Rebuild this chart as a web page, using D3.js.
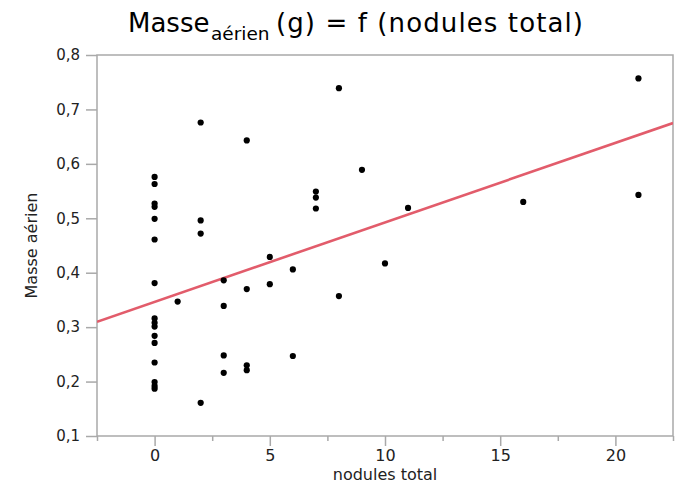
<!DOCTYPE html>
<html>
<head>
<meta charset="utf-8">
<script src="https://cdn.jsdelivr.net/npm/d3@7"></script>
<style>
  html, body { margin: 0; padding: 0; background: #fff; }
  svg { display: block; }
</style>
</head>
<body>
<svg id="chart" width="675" height="484"></svg>
<script>
// ---- data ----
const nodules = [
  0,0,0,0,0,0,0,0,0,0,0,0,0,0,0,0,
  1,
  2,2,2,2,
  3,3,3,3,
  4,4,4,4,
  5,5,
  6,6,
  7,7,7,
  8,8,
  9,
  10,
  11,
  16,
  21,21
];
const masse = [
  0.576,0.563,0.527,0.521,0.499,0.461,0.381,0.316,0.308,0.301,0.284,0.271,0.235,0.199,0.192,0.187,
  0.347,
  0.676,0.496,0.472,0.161,
  0.386,0.339,0.248,0.216,
  0.643,0.370,0.230,0.221,
  0.429,0.379,
  0.406,0.247,
  0.549,0.538,0.518,
  0.739,0.357,
  0.589,
  0.417,
  0.519,
  0.530,
  0.757,0.543
];
const xDomain = [-2.5, 22.5];
const yDomain = [0.1, 0.8];
const xMajorTicks = [0, 5, 10, 15, 20];
const xMinorTicks = [-2.5, 2.5, 7.5, 12.5, 17.5, 22.5];
const yTicks = [0.1, 0.2, 0.3, 0.4, 0.5, 0.6, 0.7, 0.8];
const fitIntercept = 0.3464;
const fitSlope = 0.0146;

const titleMain = "Masse";
const titleSub = "aérien";
const titleRest = "(g) = f (nodules total)";
const xLabel = "nodules total";
const yLabel = "Masse aérien";

// ---- layout ----
const svg = d3.select("#chart");
const pL = 97, pR = 673, pT = 55, pB = 436;
const x = d3.scaleLinear().domain(xDomain).range([pL, pR]);
const y = d3.scaleLinear().domain(yDomain).range([pB, pT]);
const axisColor = "#a9a9a9";
const fr = d3.formatLocale({decimal: ",", thousands: ".", grouping: [3], currency: ["", "€"]});
const fmt = fr.format(".1f");

// y axis
const gy = svg.append("g")
  .attr("transform", `translate(${pL},0)`)
  .call(d3.axisLeft(y).tickValues(yTicks).tickFormat(fmt).tickSize(11).tickPadding(6));
gy.select(".domain").remove();
gy.selectAll(".tick line").attr("stroke", axisColor).attr("stroke-width", 1.5);
gy.selectAll(".tick text")
  .attr("font-family", "DejaVu Sans, sans-serif").attr("font-size", 15)
  .attr("fill", "#222");

// x axis major
const gx = svg.append("g")
  .attr("transform", `translate(0,${pB})`)
  .call(d3.axisBottom(x).tickValues(xMajorTicks).tickFormat(d3.format("d")).tickSize(10).tickPadding(4));
gx.select(".domain").remove();
gx.selectAll(".tick line").attr("stroke", axisColor).attr("stroke-width", 1.5);
gx.selectAll(".tick text")
  .attr("font-family", "DejaVu Sans, sans-serif").attr("font-size", 16)
  .attr("fill", "#222");

// x axis minor
const gxm = svg.append("g")
  .attr("transform", `translate(0,${pB})`)
  .call(d3.axisBottom(x).tickValues(xMinorTicks).tickFormat("").tickSize(5));
gxm.select(".domain").remove();
gxm.selectAll(".tick line").attr("stroke", axisColor).attr("stroke-width", 1.5);

// frame
svg.append("rect")
  .attr("x", pL).attr("y", pT)
  .attr("width", pR - pL).attr("height", pB - pT)
  .attr("fill", "none").attr("stroke", axisColor).attr("stroke-width", 1.5);

// clip
svg.append("clipPath").attr("id", "plotclip")
  .append("rect").attr("x", pL).attr("y", pT)
  .attr("width", pR - pL).attr("height", pB - pT);

// regression line
const fitLine = d3.line().x(d => x(d)).y(d => y(fitIntercept + fitSlope * d));
svg.append("path")
  .datum(xDomain)
  .attr("d", fitLine)
  .attr("clip-path", "url(#plotclip)")
  .attr("fill", "none")
  .attr("stroke", "#e25c6b")
  .attr("stroke-width", 2.6);

// points
svg.append("g")
  .selectAll("circle")
  .data(nodules.map((n, i) => ({n, m: masse[i]})))
  .join("circle")
  .attr("cx", d => x(d.n))
  .attr("cy", d => y(d.m))
  .attr("r", 3.1)
  .attr("fill", "#000");

// axis titles
svg.append("text")
  .attr("x", (pL + pR) / 2).attr("y", 480)
  .attr("text-anchor", "middle")
  .attr("font-family", "DejaVu Sans, sans-serif").attr("font-size", 16)
  .attr("fill", "#222")
  .text(xLabel);

svg.append("text")
  .attr("transform", `translate(37,${(pT + pB) / 2}) rotate(-90)`)
  .attr("text-anchor", "middle")
  .attr("font-family", "DejaVu Sans, sans-serif").attr("font-size", 16)
  .attr("fill", "#222")
  .text(yLabel);

// title
const t = svg.append("text")
  .attr("font-family", "DejaVu Sans, sans-serif")
  .attr("fill", "#000");
t.append("tspan").attr("x", 128).attr("y", 32).attr("font-size", 26).text(titleMain);
t.append("tspan").attr("x", 211).attr("y", 40).attr("font-size", 18.5).text(titleSub);
t.append("tspan").attr("x", 276).attr("y", 32).attr("font-size", 26)
  .attr("textLength", 307).attr("lengthAdjust", "spacing").text(titleRest);
</script>
</body>
</html>
